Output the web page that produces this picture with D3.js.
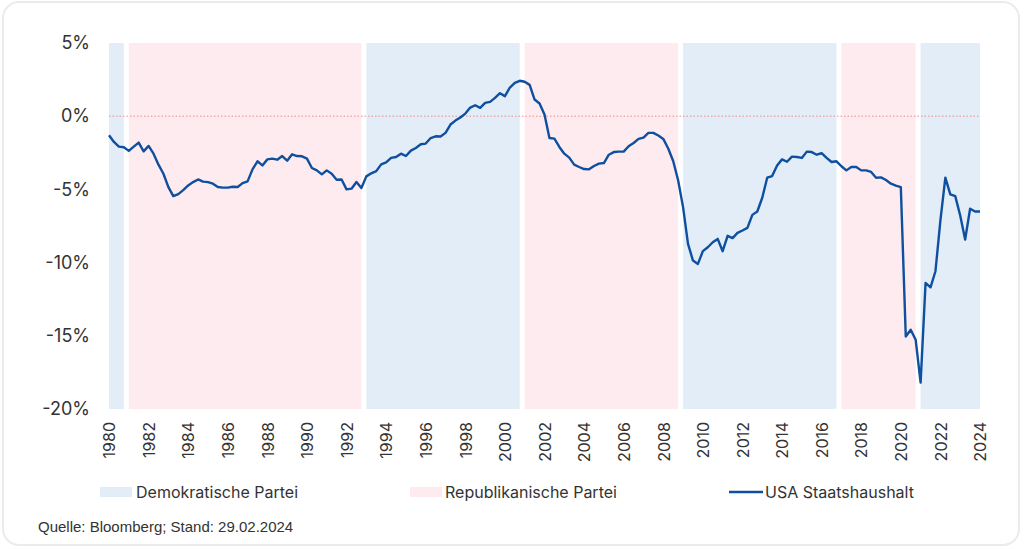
<!DOCTYPE html>
<html>
<head>
<meta charset="utf-8">
<script src="https://cdn.jsdelivr.net/npm/d3@7"></script>
<style>
  html, body { margin: 0; padding: 0; background: #ffffff; }
  svg { display: block; }
</style>
</head>
<body>
<svg id="chart" width="1024" height="549"></svg>
<script>
// ---- Data ----
const firstYear = 1980;           // first quarter of the series (Q1 1980)
const periodsPerYear = 4;         // quarterly observations
// US federal budget balance, % of GDP (quarterly, read from the reference)
const deficit = [
  -1.30, -1.76, -2.08, -2.12, -2.37, -2.08, -1.80, -2.40, -2.03, -2.56,
  -3.31, -3.93, -4.84, -5.46, -5.32, -5.05, -4.73, -4.50, -4.32, -4.47,
  -4.50, -4.61, -4.84, -4.88, -4.88, -4.82, -4.84, -4.57, -4.45, -3.63,
  -3.08, -3.36, -2.95, -2.90, -2.97, -2.72, -3.04, -2.60, -2.72, -2.74,
  -2.90, -3.54, -3.70, -3.97, -3.70, -3.93, -4.34, -4.32, -5.00, -4.95,
  -4.50, -4.91, -4.11, -3.90, -3.75, -3.29, -3.15, -2.85, -2.79, -2.56,
  -2.72, -2.35, -2.17, -1.92, -1.87, -1.49, -1.37, -1.39, -1.14, -0.57,
  -0.30, -0.09, 0.18, 0.59, 0.75, 0.57, 0.91, 0.98, 1.25, 1.57,
  1.37, 1.96, 2.28, 2.42, 2.35, 2.14, 1.14, 0.87, 0.12, -1.49,
  -1.53, -2.10, -2.56, -2.83, -3.31, -3.47, -3.61, -3.63, -3.40, -3.24,
  -3.20, -2.63, -2.45, -2.42, -2.42, -2.05, -1.83, -1.55, -1.46, -1.14,
  -1.14, -1.32, -1.55, -2.21, -3.06, -4.38, -6.21, -8.72, -9.86, -10.09,
  -9.22, -8.95, -8.61, -8.38, -9.22, -8.17, -8.33, -7.97, -7.81, -7.63,
  -6.74, -6.51, -5.57, -4.20, -4.09, -3.36, -2.95, -3.11, -2.76, -2.79,
  -2.85, -2.42, -2.45, -2.63, -2.53, -2.85, -3.13, -3.08, -3.42, -3.70,
  -3.47, -3.47, -3.70, -3.70, -3.81, -4.20, -4.18, -4.36, -4.61, -4.74,
  -4.84, -15.05, -14.59, -15.27, -18.20, -11.39, -11.69, -10.59, -7.12, -4.20,
  -5.34, -5.46, -6.78, -8.42, -6.32, -6.51, -6.51
];
// Presidential terms (party in office)
const termParty = ["D", "R", "D", "R", "D", "R", "D"];
const termStart = [1980, 1981, 1993, 2001, 2009, 2017, 2021];
const termEnd   = [1981, 1993, 2001, 2009, 2017, 2021, 2024.25];
// Axis ticks
const xTicks = d3.range(1980, 2025, 2);
const yTicks = [5, 0, -5, -10, -15, -20];
const yDomain = [-20, 5];
const xDomain = [1980, 2024];
// Legend / texts
const legendLabels = ["Demokratische Partei", "Republikanische Partei", "USA Staatshaushalt"];
const sourceText = "Quelle: Bloomberg; Stand: 29.02.2024";

// ---- Styles ----
const colDem = "#e2edf7";
const colRep = "#fdebef";
const colLine = "#0f4f9f";
const colText = "#333333";

const svg = d3.select("#chart");

// card frame
svg.append("rect")
  .attr("x", 3).attr("y", 2).attr("width", 1016).attr("height", 543)
  .attr("rx", 16).attr("ry", 16)
  .attr("fill", "#ffffff").attr("stroke", "#ebebeb").attr("stroke-width", 2);

const x = d3.scaleLinear().domain(xDomain).range([109, 980]);
const y = d3.scaleLinear().domain(yDomain).range([409, 43]);

// party bands
const gap = 5;
const bands = termParty.map((p, i) => ({ p, s: termStart[i], e: termEnd[i] }));
svg.append("g").selectAll("rect").data(bands).join("rect")
  .attr("x", d => x(d.s))
  .attr("width", d => x(d.e) - x(d.s) - gap)
  .attr("y", y(yDomain[1]))
  .attr("height", y(yDomain[0]) - y(yDomain[1]))
  .attr("fill", d => d.p === "D" ? colDem : colRep);

// zero line
svg.append("line")
  .attr("x1", x(xDomain[0])).attr("x2", x(xDomain[1]))
  .attr("y1", y(0)).attr("y2", y(0))
  .attr("stroke", "#f08a8a").attr("stroke-width", 1)
  .attr("stroke-dasharray", "1.5,2");

// y axis (labels only)
const yAxis = d3.axisLeft(y).tickValues(yTicks).tickSize(0).tickPadding(0)
  .tickFormat(d => d + "%");
const gy = svg.append("g").attr("transform", "translate(90,0)").call(yAxis);
gy.select(".domain").remove();
gy.selectAll("text")
  .attr("font-family", "Inter, 'Noto Sans', sans-serif")
  .attr("font-size", 18).attr("fill", colText);

// x axis (rotated labels only)
const xAxis = d3.axisBottom(x).tickValues(xTicks).tickSize(0).tickPadding(0)
  .tickFormat(d3.format("d"));
const gx = svg.append("g").attr("transform", "translate(0,421)").call(xAxis);
gx.select(".domain").remove();
gx.selectAll("text")
  .attr("font-family", "Inter, 'Noto Sans', sans-serif")
  .attr("font-size", 16).attr("fill", colText)
  .attr("transform", "rotate(-90)")
  .attr("text-anchor", "end")
  .attr("x", -1).attr("y", 0).attr("dy", "0.36em");

// line
const pts = deficit.map((v, i) => ({ t: firstYear + i / periodsPerYear, v }));
svg.append("path")
  .datum(pts)
  .attr("fill", "none")
  .attr("stroke", colLine)
  .attr("stroke-width", 2.4)
  .attr("stroke-linejoin", "round")
  .attr("d", d3.line().x(d => x(d.t)).y(d => y(d.v)));

// legend
const legY = 492;
const leg = svg.append("g").attr("font-family", "Inter, 'Noto Sans', sans-serif")
  .attr("font-size", 16).attr("fill", colText);
const legX = [100, 410, 729];
leg.append("rect").attr("x", legX[0]).attr("y", legY - 5).attr("width", 32).attr("height", 10).attr("fill", colDem);
leg.append("text").attr("x", legX[0] + 36).attr("y", legY).attr("dy", "0.35em").text(legendLabels[0]);
leg.append("rect").attr("x", legX[1]).attr("y", legY - 5).attr("width", 32).attr("height", 10).attr("fill", colRep);
leg.append("text").attr("x", legX[1] + 35).attr("y", legY).attr("dy", "0.35em").text(legendLabels[1]);
leg.append("line").attr("x1", legX[2]).attr("x2", legX[2] + 34).attr("y1", legY).attr("y2", legY)
  .attr("stroke", colLine).attr("stroke-width", 2.4);
leg.append("text").attr("x", legX[2] + 36).attr("y", legY).attr("dy", "0.35em").text(legendLabels[2]);

// source
svg.append("text")
  .attr("x", 38).attr("y", 527).attr("dy", "0.35em")
  .attr("font-family", "'Liberation Sans', Arial, sans-serif")
  .attr("font-size", 15).attr("fill", colText)
  .text(sourceText);
</script>
</body>
</html>
